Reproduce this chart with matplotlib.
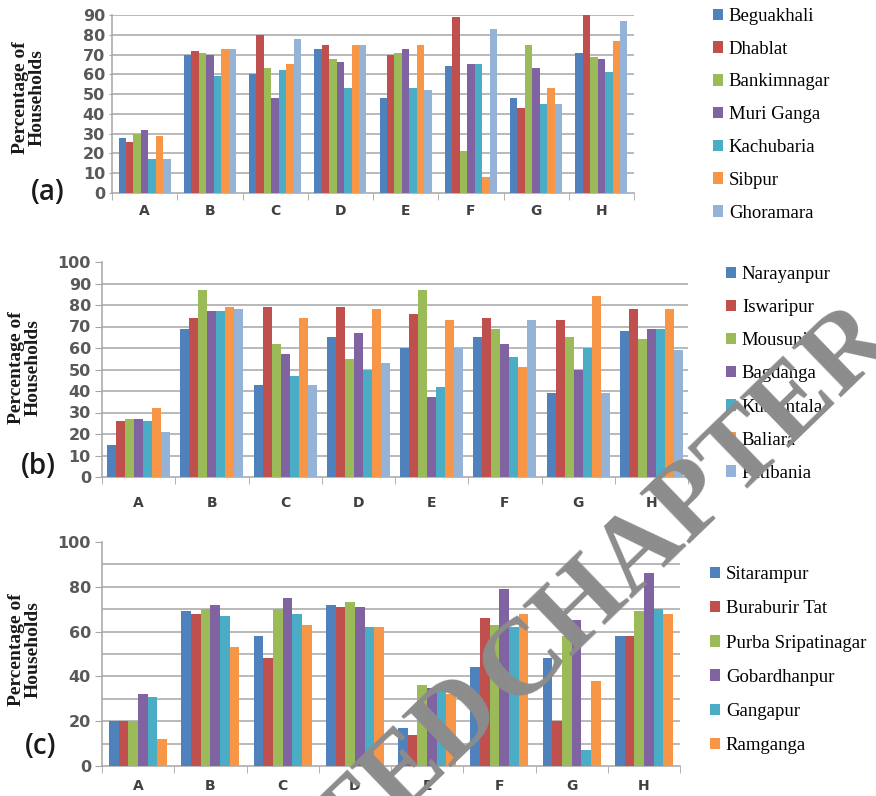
import numpy as np
import matplotlib.pyplot as plt

groups = ["A", "B", "C", "D", "E", "F", "G", "H"]
colors7 = ["#4F81BD", "#C0504D", "#9BBB59", "#8064A2", "#4BACC6", "#F79646", "#95B3D7"]

# panel (a)
a_names = ["Beguakhali", "Dhablat", "Bankimnagar", "Muri Ganga", "Kachubaria", "Sibpur", "Ghoramara"]
a_beguakhali = [28, 70, 60, 73, 48, 64, 48, 71]
a_dhablat = [26, 72, 80, 75, 70, 89, 43, 90]
a_bankimnagar = [30, 71, 63, 68, 71, 21, 75, 69]
a_muriganga = [32, 70, 48, 66, 73, 65, 63, 68]
a_kachubaria = [17, 59, 62, 53, 53, 65, 45, 61]
a_sibpur = [29, 73, 65, 75, 75, 8, 53, 77]
a_ghoramara = [17, 73, 78, 75, 52, 83, 45, 87]
a_series = [a_beguakhali, a_dhablat, a_bankimnagar, a_muriganga, a_kachubaria, a_sibpur, a_ghoramara]

# panel (b)
b_names = ["Narayanpur", "Iswaripur", "Mousuni", "Bagdanga", "Kusumtala", "Baliara", "Patibania"]
b_narayanpur = [15, 69, 43, 65, 60, 65, 39, 68]
b_iswaripur = [26, 74, 79, 79, 76, 74, 73, 78]
b_mousuni = [27, 87, 62, 55, 87, 69, 65, 64]
b_bagdanga = [27, 77, 57, 67, 37, 62, 50, 69]
b_kusumtala = [26, 77, 47, 50, 42, 56, 60, 69]
b_baliara = [32, 79, 74, 78, 73, 51, 84, 78]
b_patibania = [21, 78, 43, 53, 60, 73, 39, 59]
b_series = [b_narayanpur, b_iswaripur, b_mousuni, b_bagdanga, b_kusumtala, b_baliara, b_patibania]

# panel (c)
c_names = ["Sitarampur", "Buraburir Tat", "Purba Sripatinagar", "Gobardhanpur", "Gangapur", "Ramganga"]
c_sitarampur = [20, 69, 58, 72, 17, 44, 48, 58]
c_buraburir = [20, 68, 48, 71, 14, 66, 20, 58]
c_purba = [20, 70, 70, 73, 36, 63, 58, 69]
c_gobardhanpur = [32, 72, 75, 71, 35, 79, 65, 86]
c_gangapur = [31, 67, 68, 62, 35, 62, 7, 70]
c_ramganga = [12, 53, 63, 62, 32, 68, 38, 68]
c_series = [c_sitarampur, c_buraburir, c_purba, c_gobardhanpur, c_gangapur, c_ramganga]

W, H = 876, 796
fig = plt.figure(figsize=(W / 100, H / 100), dpi=100)


def px_axes(x0, y_top, x1, y_bot):
    return fig.add_axes([x0 / W, 1 - y_bot / H, (x1 - x0) / W, (y_bot - y_top) / H])


def draw_panel(ax, series, names, ymax, tick_step, group_w, xpad, ylen):
    n = len(series)
    x = np.arange(len(groups))
    bw = group_w / n
    for i, vals in enumerate(series):
        ax.bar(x - group_w / 2 + bw * (i + 0.5), vals, bw, color=colors7[i],
               label=names[i], zorder=3, linewidth=0)
    # gridlines stop at 90 like the original
    for g in range(10, 91, 10):
        ax.axhline(g, color="#A6A6A6", lw=1.1, zorder=1)
    ax.set_xlim(-0.5, len(groups) - 0.5)
    ax.set_ylim(0, ymax)
    ax.set_yticks(np.arange(0, ymax + 0.1, tick_step))
    ax.set_xticks(x)
    ax.set_xticklabels(groups, fontsize=10, fontweight="bold", color="#404040")
    ax.set_xticks(np.arange(-0.5, len(groups)), minor=True)
    ax.tick_params(axis="x", which="major", length=0, pad=xpad)
    ax.tick_params(axis="x", which="minor", length=5, color="#A6A6A6")
    ax.tick_params(axis="y", labelsize=11.5, labelcolor="#595959", length=ylen, pad=3,
                   color="#A6A6A6")
    for s in ["top", "right"]:
        ax.spines[s].set_visible(False)
    for s in ["left", "bottom"]:
        ax.spines[s].set_color("#A6A6A6")
        ax.spines[s].set_linewidth(1.1)
    for t in ax.get_yticklabels():
        t.set_fontweight("bold")


ylab_kw = dict(rotation=90, fontsize=14, fontweight="bold", family="Liberation Serif",
               ha="center", va="center", linespacing=1.0, color="#1a1a1a")
panel_kw = dict(fontsize=20, family="Open Sans", fontweight="semibold",
                ha="center", va="center", color="#1a1a1a")
leg_kw = dict(loc="upper left", frameon=False, handlelength=0.55, handleheight=0.55,
              handletextpad=0.3, borderaxespad=0, borderpad=0,
              prop={"family": "Liberation Serif", "size": 13.5})

# (a)
ax_a = px_axes(112, 15, 634, 193)
draw_panel(ax_a, a_series, a_names, 90, 10, 0.8, 8, 2)
fig.text(29 / W, 1 - 98 / H, "Percentage of\nHouseholds", **ylab_kw)
fig.text(48 / W, 1 - 192 / H, "(a)", **panel_kw)
fig.legend(*ax_a.get_legend_handles_labels(), bbox_to_anchor=(713 / W, 1 - 8 / H),
           labelspacing=0.84, **leg_kw)

# (b)
ax_b = px_axes(102, 262, 688, 477)
draw_panel(ax_b, b_series, b_names, 100, 10, 0.86, 14, 5)
fig.text(25 / W, 1 - 368 / H, "Percentage of\nHouseholds", **ylab_kw)
fig.text(38 / W, 1 - 466 / H, "(b)", **panel_kw)
fig.legend(*ax_b.get_legend_handles_labels(), bbox_to_anchor=(726 / W, 1 - 266 / H),
           labelspacing=0.86, **leg_kw)

# (c)
ax_c = px_axes(102, 542, 680, 766)
draw_panel(ax_c, c_series, c_names, 100, 20, 0.8, 9, 5)
fig.text(25 / W, 1 - 650 / H, "Percentage of\nHouseholds", **ylab_kw)
fig.text(41 / W, 1 - 747 / H, "(c)", **panel_kw)
fig.legend(*ax_c.get_legend_handles_labels(), bbox_to_anchor=(710 / W, 1 - 566 / H),
           labelspacing=0.92, **leg_kw)

# watermark, split at the word gap so each half can be placed
wm_kw = dict(rotation=44, rotation_mode="anchor", fontsize=78, fontweight="bold",
             family="Liberation Serif", color="#8c8c8c", va="center", zorder=10)
fig.text(488 / W, 1 - 694 / H, "RETRACTED", ha="right", **wm_kw)
fig.text(496 / W, 1 - 690 / H, "CHAPTER", ha="left", **wm_kw)

plt.savefig("out.png", dpi=100)
